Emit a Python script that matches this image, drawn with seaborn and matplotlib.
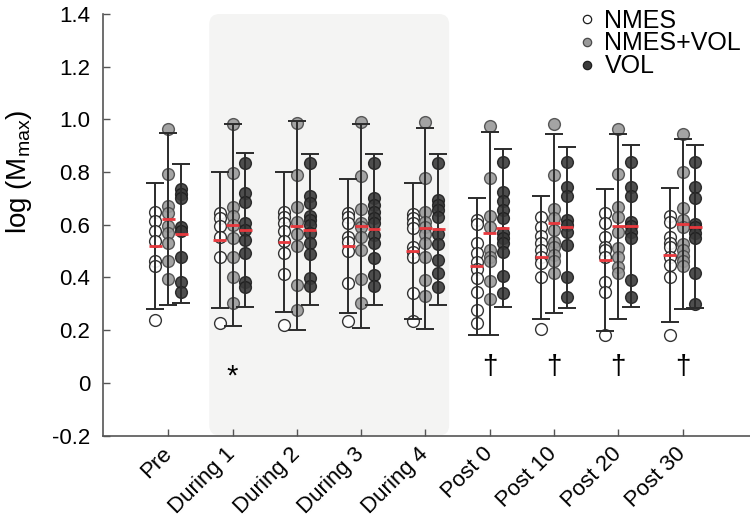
import numpy as np
import pandas as pd
import seaborn as sns
import matplotlib
matplotlib.use("Agg")
from matplotlib import pyplot as plt
from matplotlib.patches import FancyBboxPatch
from matplotlib.lines import Line2D

times = ["Pre", "During 1", "During 2", "During 3", "During 4",
         "Post 0", "Post 10", "Post 20", "Post 30"]
groups = ["NMES", "NMES+VOL", "VOL"]
y_ticks = [-0.2, 0, 0.2, 0.4, 0.6, 0.8, 1.0, 1.2, 1.4]
y_ticklabels = ["-0.2", "0", "0.2", "0.4", "0.6", "0.8", "1.0", "1.2", "1.4"]

# individual subjects, one list per time point
nmes_pts = [
    [0.648, 0.616, 0.576, 0.538, 0.462, 0.443, 0.238],
    [0.644, 0.625, 0.597, 0.555, 0.479, 0.228],
    [0.650, 0.628, 0.608, 0.578, 0.538, 0.492, 0.412, 0.219],
    [0.646, 0.628, 0.606, 0.555, 0.536, 0.502, 0.378, 0.235],
    [0.641, 0.625, 0.606, 0.587, 0.517, 0.498, 0.479, 0.342, 0.235],
    [0.618, 0.603, 0.530, 0.492, 0.460, 0.431, 0.397, 0.346, 0.276, 0.228],
    [0.628, 0.593, 0.557, 0.530, 0.504, 0.479, 0.456, 0.403, 0.206],
    [0.644, 0.606, 0.552, 0.517, 0.504, 0.479, 0.384, 0.346, 0.181],
    [0.633, 0.612, 0.555, 0.532, 0.515, 0.479, 0.447, 0.403, 0.181],
]
nmesvol_pts = [
    [0.965, 0.793, 0.673, 0.646, 0.597, 0.568, 0.532, 0.464, 0.393],
    [0.983, 0.796, 0.669, 0.633, 0.599, 0.549, 0.479, 0.403, 0.304],
    [0.986, 0.789, 0.669, 0.612, 0.564, 0.519, 0.371, 0.276],
    [0.990, 0.786, 0.659, 0.606, 0.590, 0.552, 0.504, 0.393, 0.304],
    [0.990, 0.779, 0.650, 0.612, 0.590, 0.565, 0.530, 0.479, 0.390, 0.329],
    [0.975, 0.779, 0.633, 0.590, 0.504, 0.479, 0.463, 0.387, 0.320],
    [0.983, 0.789, 0.659, 0.625, 0.580, 0.536, 0.515, 0.485, 0.463, 0.418],
    [0.963, 0.793, 0.669, 0.628, 0.574, 0.511, 0.479, 0.441, 0.418],
    [0.945, 0.802, 0.663, 0.617, 0.590, 0.527, 0.504, 0.481, 0.463, 0.444],
]
vol_pts = [
    [0.736, 0.717, 0.701, 0.590, 0.578, 0.476, 0.384, 0.346],
    [0.836, 0.722, 0.688, 0.606, 0.580, 0.542, 0.494, 0.384, 0.365],
    [0.836, 0.709, 0.682, 0.633, 0.618, 0.599, 0.568, 0.532, 0.489, 0.397, 0.367],
    [0.836, 0.701, 0.675, 0.650, 0.625, 0.606, 0.561, 0.530, 0.473, 0.409, 0.367],
    [0.836, 0.694, 0.675, 0.656, 0.631, 0.565, 0.527, 0.466, 0.416, 0.365],
    [0.838, 0.726, 0.692, 0.656, 0.625, 0.568, 0.549, 0.530, 0.498, 0.406, 0.340],
    [0.838, 0.743, 0.709, 0.618, 0.599, 0.574, 0.523, 0.403, 0.327],
    [0.840, 0.743, 0.709, 0.612, 0.596, 0.574, 0.549, 0.390, 0.327],
    [0.840, 0.743, 0.701, 0.603, 0.590, 0.570, 0.549, 0.418, 0.298],
]

# group means (red bars) and SD (error bars)
nmes_mean = [0.520, 0.542, 0.536, 0.519, 0.500, 0.443, 0.477, 0.467, 0.485]
nmes_sd = [0.240, 0.257, 0.266, 0.255, 0.257, 0.260, 0.233, 0.270, 0.255]
nmesvol_mean = [0.622, 0.600, 0.597, 0.596, 0.587, 0.567, 0.606, 0.595, 0.603]
nmesvol_sd = [0.328, 0.384, 0.396, 0.387, 0.381, 0.385, 0.340, 0.351, 0.324]
vol_mean = [0.566, 0.580, 0.581, 0.582, 0.582, 0.586, 0.590, 0.596, 0.593]
vol_sd = [0.263, 0.292, 0.287, 0.287, 0.287, 0.300, 0.305, 0.307, 0.310]

# significance marks below each time point
sig_marks = ["", "*", "", "", "", "\u2020", "\u2020", "\u2020", "\u2020"]
sig_y = 0.05

sns.set_style("white")
plt.rcParams["font.family"] = ["Liberation Sans", "DejaVu Sans"]
plt.rcParams["mathtext.fontset"] = "custom"
plt.rcParams["mathtext.rm"] = "Liberation Sans"
plt.rcParams["text.color"] = "black"
plt.rcParams["axes.labelcolor"] = "black"

face = {"NMES": "white", "NMES+VOL": "#9a9a9a", "VOL": "#3b3b3b"}
edge = {"NMES": "#1e1e1e", "NMES+VOL": "#4a4a4a", "VOL": "#1e1e1e"}
offset = {"NMES": -0.2, "NMES+VOL": 0.0, "VOL": 0.2}

rows = []
for g, pts in zip(groups, [nmes_pts, nmesvol_pts, vol_pts]):
    for ti, vals in enumerate(pts):
        for v in vals:
            rows.append((times[ti], g, v))
df = pd.DataFrame(rows, columns=["time", "group", "value"])
df["x"] = df["time"].map(times.index) + df["group"].map(offset)

fig = plt.figure(figsize=(7.5, 5.21), dpi=100)
ax = fig.add_axes([103 / 750, 1 - 435.5 / 521, 1 - 103 / 750, 421.5 / 521])

# shaded "during" period
shade = FancyBboxPatch((0.638, -0.2), 4.37 - 0.638, 1.6,
                       boxstyle="round,pad=0,rounding_size=0.16",
                       mutation_aspect=0.245, fc="#f4f4f3", ec="none", zorder=0)
ax.add_patch(shade)

for g in groups:
    sns.scatterplot(data=df[df.group == g], x="x", y="value", color=face[g],
                    edgecolor=edge[g], linewidth=1.0, s=72, alpha=0.9,
                    legend=False, ax=ax, zorder=2)

xs = np.arange(len(times))
for g, m, sd in zip(groups, [nmes_mean, nmesvol_mean, vol_mean],
                    [nmes_sd, nmesvol_sd, vol_sd]):
    xg = xs + offset[g]
    ax.errorbar(xg, m, yerr=sd, fmt="none", ecolor="#2b2b2b", elinewidth=1.4,
                capsize=6.5, capthick=1.4, zorder=3)
    ax.hlines(m, xg - 0.1, xg + 0.1, colors="#e8383d", lw=2.0, zorder=4)

for xi, mark in zip(xs, sig_marks):
    if mark == "*":
        ax.text(xi, sig_y - 0.025, mark, ha="center", va="center", fontsize=21)
    elif mark:
        ax.text(xi, sig_y + 0.01, mark, ha="center", va="center", fontsize=20)

ax.set_xlim(-1.015, 9.05)
ax.set_ylim(-0.2, 1.4)
ax.set_xticks(xs)
ax.set_xticklabels(times, rotation=45, ha="right", va="center",
                   rotation_mode="anchor", fontsize=16)
ax.set_yticks(y_ticks)
ax.set_yticklabels(y_ticklabels, fontsize=16)
ax.tick_params(axis="both", direction="in", length=5, width=1.0,
               color="#555555", labelcolor="black", left=True, bottom=True)
ax.tick_params(axis="x", pad=11)
ax.tick_params(axis="y", pad=9)
ax.set_xlabel("")
ax.set_ylabel(r"log (M$_{\mathregular{max}}$)", fontsize=20)
ax.yaxis.set_label_coords(-0.106, 0.625)
for s in ["top", "right"]:
    ax.spines[s].set_visible(False)
for s in ["left", "bottom"]:
    ax.spines[s].set_color("#555555")
    ax.spines[s].set_linewidth(1.2)

handles = [Line2D([], [], marker="o", ls="", markersize=6, mfc=face[g],
                  mec=edge[g], mew=0.9, label=g) for g in groups]
fig.legend(handles=handles, loc="upper right", bbox_to_anchor=(1.0, 1.0),
           frameon=False, fontsize=18, handlelength=0.7, handletextpad=0.35,
           labelspacing=-0.05, borderpad=0.1, borderaxespad=0.25)

fig.savefig("out.png", dpi=100)
